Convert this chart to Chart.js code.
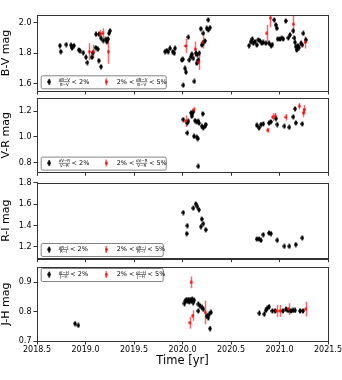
<!DOCTYPE html>
<html>
<head>
<meta charset="utf-8">
<script src="https://cdn.jsdelivr.net/npm/chart.js@4.4.0/dist/chart.umd.min.js"></script>
<style>
  body { margin: 0; background: #fff; }
  #wrap { position: relative; width: 342px; height: 380px; }
  #wrap canvas { position: absolute; left: 0; top: 0; }
</style>
</head>
<body>
<div id="wrap">
  <canvas id="bv" width="342" height="380"></canvas>
  <canvas id="vr" width="342" height="380"></canvas>
  <canvas id="ri" width="342" height="380"></canvas>
  <canvas id="jh" width="342" height="380"></canvas>
</div>
<script>
// tick labels
const xTicks = [2018.5, 2019.0, 2019.5, 2020.0, 2020.5, 2021.0, 2021.5];
const bvTicks = [1.6, 1.8, 2.0];
const vrTicks = [0.8, 1.0, 1.2];
const riTicks = [1.2, 1.4, 1.6, 1.8];
const jhTicks = [0.7, 0.8, 0.9];

// [time, colour index, error]  -- "good" = sigma < 2%, "bad" = 2% < sigma < 5%
const bvGood = [
  [2018.737,1.849,0.01],[2018.744,1.810,0.01],[2018.802,1.856,0.01],[2018.851,1.852,0.01],
  [2018.864,1.843,0.01],[2018.881,1.849,0.01],[2018.861,1.834,0.01],[2018.930,1.821,0.01],
  [2018.943,1.816,0.01],[2018.977,1.803,0.01],[2019.005,1.773,0.01],[2019.019,1.738,0.01],
  [2019.064,1.773,0.01],[2019.074,1.803,0.01],[2019.105,1.836,0.01],[2019.108,1.924,0.01],
  [2019.126,1.826,0.01],[2019.136,1.751,0.01],[2019.139,1.924,0.01],[2019.160,1.711,0.01],
  [2019.160,1.898,0.01],[2019.184,1.882,0.01],[2019.208,1.891,0.01],[2019.219,1.875,0.01],
  [2019.232,1.893,0.01],[2019.242,1.930,0.01],[2019.253,1.946,0.01],
  [2019.820,1.810,0.01],[2019.837,1.817,0.01],[2019.854,1.810,0.01],[2019.871,1.832,0.01],
  [2019.899,1.810,0.01],[2019.923,1.832,0.01],[2019.915,1.800,0.01],[2019.992,1.755,0.01],
  [2020.008,1.590,0.01],[2020.002,1.760,0.01],[2020.026,1.700,0.01],[2020.036,1.675,0.01],
  [2020.060,1.905,0.01],[2020.070,1.755,0.01],[2020.085,1.777,0.01],[2020.095,1.793,0.01],
  [2020.111,1.766,0.01],[2020.122,1.615,0.01],[2020.139,1.800,0.01],[2020.153,1.790,0.01],
  [2020.146,1.734,0.01],[2020.163,1.755,0.01],[2020.173,1.800,0.01],[2020.198,1.854,0.01],
  [2020.214,1.865,0.01],[2020.232,1.880,0.01],[2020.188,1.960,0.01],[2020.214,1.930,0.01],
  [2020.249,1.963,0.01],[2020.266,1.952,0.01],[2020.284,1.967,0.01],[2020.266,2.018,0.01],
  [2020.686,1.849,0.01],[2020.703,1.875,0.01],[2020.720,1.893,0.01],[2020.730,1.865,0.01],
  [2020.747,1.875,0.01],[2020.765,1.854,0.01],[2020.781,1.887,0.01],[2020.799,1.880,0.01],
  [2020.817,1.865,0.01],[2020.833,1.871,0.01],[2020.858,1.865,0.01],[2020.892,1.865,0.01],
  [2020.912,1.849,0.01],[2020.926,1.856,0.01],[2020.946,2.018,0.01],[2020.961,1.985,0.01],
  [2020.971,1.963,0.01],[2020.981,1.893,0.01],[2021.005,1.893,0.01],[2021.023,1.898,0.01],
  [2021.039,1.893,0.01],[2021.064,2.011,0.01],[2021.091,1.900,0.01],[2021.108,1.920,0.01],
  [2021.142,1.946,0.01],[2021.153,1.900,0.01],[2021.160,1.871,0.01],[2021.167,1.843,0.01],
  [2021.177,1.821,0.01],[2021.188,1.849,0.01],[2021.201,1.836,0.01],[2021.222,1.865,0.01],
  [2021.235,1.854,0.01],[2021.245,1.930,0.01],[2021.270,1.887,0.01]
];
const bvBad = [
  [2019.039,1.810,0.055],[2019.080,1.810,0.045],[2019.150,1.925,0.027],[2019.177,1.930,0.033],
  [2019.235,1.810,0.080],[2020.033,1.847,0.047],[2020.129,1.826,0.050],[2020.167,1.740,0.050],
  [2020.208,1.870,0.040],[2020.868,1.930,0.055],[2020.905,2.030,0.060],[2021.142,1.990,0.060],
  [2021.263,1.870,0.040]
];

const vrGood = [
  [2020.008,1.135,0.012],[2020.050,1.109,0.012],[2020.060,1.122,0.012],[2020.050,1.031,0.012],
  [2020.088,1.187,0.012],[2020.101,1.179,0.012],[2020.111,1.195,0.012],[2020.095,1.161,0.012],
  [2020.129,1.127,0.012],[2020.146,1.117,0.012],[2020.163,1.122,0.012],[2020.170,1.109,0.012],
  [2020.208,1.179,0.012],[2020.198,1.083,0.012],[2020.214,1.070,0.012],[2020.232,1.083,0.012],
  [2020.239,1.096,0.012],[2020.118,1.005,0.012],[2020.146,0.998,0.012],[2020.156,0.987,0.012],
  [2020.163,0.772,0.012],
  [2020.765,1.091,0.012],[2020.789,1.070,0.012],[2020.809,1.096,0.012],[2020.833,1.101,0.012],
  [2020.892,1.109,0.012],[2020.909,1.117,0.012],[2020.964,1.143,0.012],[2020.977,1.096,0.012],
  [2021.050,1.083,0.012],[2021.101,1.075,0.012],[2021.142,1.156,0.012],[2021.160,1.218,0.012],
  [2021.167,1.109,0.012],[2021.235,1.101,0.012]
];
const vrBad = [
  [2020.033,1.122,0.045],[2020.118,1.212,0.022],[2020.878,1.052,0.020],[2020.930,1.153,0.030],
  [2020.954,1.161,0.025],[2021.067,1.153,0.025],[2021.204,1.239,0.025],[2021.245,1.187,0.035],
  [2021.256,1.212,0.035]
];

const riGood = [
  [2020.008,1.521,0.012],[2020.050,1.398,0.012],[2020.043,1.324,0.012],[2020.111,1.562,0.012],
  [2020.136,1.602,0.012],[2020.153,1.577,0.012],[2020.170,1.547,0.012],[2020.198,1.460,0.012],
  [2020.214,1.417,0.012],[2020.190,1.390,0.012],[2020.239,1.360,0.012],
  [2020.765,1.274,0.012],[2020.789,1.274,0.012],[2020.809,1.262,0.012],[2020.833,1.314,0.012],
  [2020.892,1.330,0.012],[2020.912,1.324,0.012],[2020.977,1.262,0.012],[2021.050,1.206,0.012],
  [2021.101,1.206,0.012],[2021.167,1.222,0.012],[2021.235,1.284,0.012]
];
const riBad = [];

const jhGood = [
  [2018.892,0.759,0.005],[2018.926,0.753,0.005],
  [2020.020,0.827,0.007],[2020.030,0.835,0.007],[2020.040,0.840,0.007],[2020.050,0.835,0.007],
  [2020.060,0.840,0.007],[2020.070,0.833,0.007],[2020.080,0.840,0.007],[2020.090,0.836,0.007],
  [2020.100,0.842,0.007],[2020.110,0.830,0.007],[2020.120,0.838,0.007],[2020.163,0.825,0.007],
  [2020.180,0.819,0.007],[2020.198,0.814,0.007],[2020.214,0.808,0.007],[2020.163,0.802,0.007],
  [2020.249,0.785,0.007],[2020.266,0.779,0.007],[2020.276,0.791,0.007],[2020.290,0.797,0.007],
  [2020.284,0.742,0.007],
  [2020.792,0.794,0.007],[2020.843,0.791,0.007],[2020.858,0.804,0.007],[2020.874,0.811,0.007],
  [2020.892,0.816,0.007],[2020.926,0.802,0.007],[2020.954,0.802,0.007],[2021.033,0.802,0.007],
  [2021.067,0.808,0.007],[2021.084,0.804,0.007],[2021.115,0.802,0.007],[2021.136,0.804,0.007],
  [2021.160,0.804,0.007],[2021.211,0.802,0.007],[2021.239,0.802,0.007]
];
const jhBad = [
  [2020.088,0.899,0.020],[2020.077,0.762,0.020],[2020.105,0.786,0.018],[2020.232,0.797,0.040],
  [2020.971,0.802,0.020],[2021.005,0.802,0.020],[2021.095,0.808,0.020],[2021.270,0.808,0.025]
];

const FONT = '"DejaVu Sans", sans-serif';
const AXIS = '#333';

// thin diamond markers, like matplotlib "d"
function diamond(color, w, h) {
  const c = document.createElement('canvas');
  c.width = w; c.height = h;
  const g = c.getContext('2d');
  g.fillStyle = color;
  g.beginPath();
  g.moveTo(w / 2, 0); g.lineTo(w, h / 2); g.lineTo(w / 2, h); g.lineTo(0, h / 2);
  g.closePath(); g.fill();
  return c;
}
const blackMark = diamond('#000', 4, 6);
const redMark = diamond('#f00', 3, 4);

// vertical error bars, drawn with the chart's own scales
const errorBars = {
  id: 'errorBars',
  beforeDatasetsDraw(chart) {
    const { ctx, chartArea: a, scales: { x, y } } = chart;
    ctx.save();
    ctx.beginPath(); ctx.rect(a.left, a.top, a.right - a.left, a.bottom - a.top); ctx.clip();
    chart.data.datasets.forEach(ds => {
      ctx.strokeStyle = ds.barColor;
      ctx.lineWidth = ds.barWidth;
      ds.data.forEach(p => {
        const px = Math.round(x.getPixelForValue(p.x)) + 0.5;
        ctx.beginPath();
        ctx.moveTo(px, y.getPixelForValue(p.y - p.e));
        ctx.lineTo(px, y.getPixelForValue(p.y + p.e));
        ctx.stroke();
      });
    });
    ctx.restore();
  }
};

// full box round the plot
const frame = {
  id: 'frame',
  afterDraw(chart) {
    const { ctx, chartArea: a } = chart;
    ctx.save();
    ctx.strokeStyle = AXIS; ctx.lineWidth = 1;
    ctx.strokeRect(Math.round(a.left) + 0.5, Math.round(a.top) + 0.5,
      Math.round(a.right - a.left), Math.round(a.bottom - a.top));
    ctx.restore();
  }
};

function fraction(ctx, x, cy, name) {
  ctx.font = '4px ' + FONT;
  const num = '\u03c3' + name;
  const wNum = ctx.measureText(num).width;
  const wDen = ctx.measureText(name).width;
  const w = Math.max(wNum, wDen);
  ctx.textAlign = 'center';
  ctx.textBaseline = 'alphabetic';
  ctx.fillText(num, x + w / 2, cy - 0.8);
  ctx.textBaseline = 'top';
  ctx.fillText(name, x + w / 2, cy + 0.8);
  ctx.fillRect(x, cy - 0.2, w, 0.5);
  ctx.textAlign = 'left';
  return w;
}

const legendBox = {
  id: 'legendBox',
  afterDraw(chart, args, o) {
    const { ctx, chartArea: a } = chart;
    const h = 13;
    const x0 = a.left + 3.7;
    const y0 = o.at === 'top' ? a.top + 1 : a.bottom - 2.7 - h;
    const cy = y0 + h / 2;
    ctx.save();
    ctx.fillStyle = '#fff';
    ctx.strokeStyle = '#666';
    ctx.lineWidth = 0.8;
    ctx.beginPath();
    ctx.roundRect(x0 + 0.5, y0 + 0.5, o.w, h, 1.5);
    ctx.fill(); ctx.stroke();

    // black entry
    ctx.strokeStyle = '#000'; ctx.lineWidth = 1;
    ctx.beginPath(); ctx.moveTo(x0 + 8.5, cy - 3); ctx.lineTo(x0 + 8.5, cy + 3); ctx.stroke();
    ctx.drawImage(blackMark, x0 + 6.5, cy - 3);
    ctx.fillStyle = '#000';
    let x = x0 + 18;
    x += fraction(ctx, x, cy, o.name) + 1.5;
    ctx.font = '6.5px ' + FONT; ctx.textBaseline = 'middle';
    ctx.fillText('< 2%', x, cy + 0.3);

    // red entry
    ctx.strokeStyle = 'rgba(255,0,0,0.6)'; ctx.lineWidth = 1.5;
    ctx.beginPath(); ctx.moveTo(x0 + 65.5, cy - 3.5); ctx.lineTo(x0 + 65.5, cy + 3.5); ctx.stroke();
    ctx.drawImage(redMark, x0 + 64, cy - 2);
    ctx.fillStyle = '#000';
    x = x0 + 76;
    ctx.font = '6.5px ' + FONT; ctx.textBaseline = 'middle';
    ctx.fillText('2% <', x, cy + 0.3);
    x += ctx.measureText('2% <').width + 1.5;
    x += fraction(ctx, x, cy, o.name) + 1.5;
    ctx.font = '6.5px ' + FONT; ctx.textBaseline = 'middle';
    ctx.fillText('< 5%', x, cy + 0.3);
    ctx.restore();
  }
};

function toPoints(rows) {
  return rows.map(([x, y, e]) => ({ x, y, e }));
}

function makePanel(id, cfg) {
  new Chart(document.getElementById(id), {
    type: 'scatter',
    data: {
      datasets: [
        { data: toPoints(cfg.bad), pointStyle: redMark, barColor: 'rgba(255,0,0,0.6)', barWidth: 1.5 },
        { data: toPoints(cfg.good), pointStyle: blackMark, barColor: '#000', barWidth: 1 }
      ]
    },
    options: {
      responsive: false,
      animation: false,
      devicePixelRatio: 1,
      events: [],
      layout: { padding: { top: cfg.top, bottom: cfg.bottom, left: 0, right: 14 } },
      plugins: {
        legend: { display: false },
        tooltip: { enabled: false },
        legendBox: { at: cfg.legendAt, w: cfg.legendW, name: cfg.name }
      },
      scales: {
        x: {
          type: 'linear',
          min: 2018.5,
          max: 2021.5,
          afterBuildTicks: s => { s.ticks = xTicks.map(v => ({ value: v })); },
          afterFit: s => { s.height = cfg.xh; s.paddingLeft = 0; s.paddingRight = 0; },
          grid: { drawOnChartArea: false, drawTicks: true, tickLength: 3.5, color: AXIS },
          border: { color: AXIS },
          ticks: {
            display: cfg.xLabels,
            padding: 1,
            color: '#000',
            font: { family: FONT, size: 8 },
            callback: v => v.toFixed(1)
          },
          title: {
            display: cfg.xLabels,
            text: 'Time [yr]',
            color: '#000',
            font: { family: FONT, size: 11.5 },
            padding: { top: 0, bottom: 0 }
          }
        },
        y: {
          min: cfg.min,
          max: cfg.max,
          afterBuildTicks: s => { s.ticks = cfg.ticks.map(v => ({ value: v })); },
          afterFit: s => { s.width = 37; s.paddingTop = 0; s.paddingBottom = 0; },
          grid: { drawOnChartArea: false, drawTicks: true, tickLength: 3.5, color: AXIS },
          border: { color: AXIS },
          ticks: {
            padding: 2,
            color: '#000',
            font: { family: FONT, size: 8 },
            callback: v => v.toFixed(1)
          },
          title: {
            display: true,
            text: cfg.label,
            color: '#000',
            font: { family: FONT, size: 11 },
            padding: { top: 0, bottom: 0 }
          }
        }
      }
    },
    plugins: [errorBars, frame, legendBox]
  });
}

makePanel('bv', { good: bvGood, bad: bvBad, ticks: bvTicks, min: 1.552, max: 2.05,
  label: 'B-V mag', name: 'B\u2212V', legendAt: 'bottom', legendW: 125,
  top: 15, bottom: 285, xh: 4, xLabels: false });
makePanel('vr', { good: vrGood, bad: vrBad, ticks: vrTicks, min: 0.725, max: 1.30,
  label: 'V-R mag', name: 'V\u2212R', legendAt: 'bottom', legendW: 125,
  top: 98.3, bottom: 203.7, xh: 4, xLabels: false });
makePanel('ri', { good: riGood, bad: riBad, ticks: riTicks, min: 1.09, max: 1.80,
  label: 'R-I mag', name: 'R\u2212I', legendAt: 'bottom', legendW: 122,
  top: 182.7, bottom: 117.3, xh: 4, xLabels: false });
makePanel('jh', { good: jhGood, bad: jhBad, ticks: jhTicks, min: 0.70, max: 0.951,
  label: 'J-H mag', name: 'J\u2212H', legendAt: 'top', legendW: 122,
  top: 267, bottom: 12, xh: 27, xLabels: true });
</script>
</body>
</html>
